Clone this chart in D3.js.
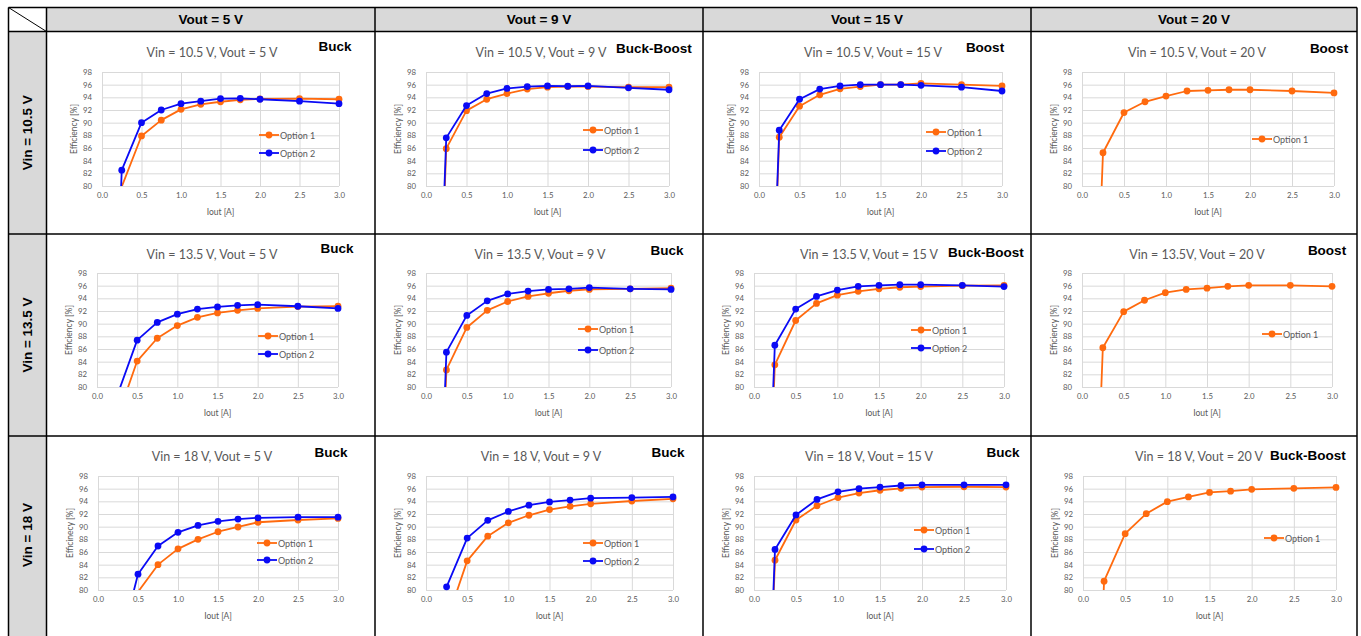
<!DOCTYPE html>
<html><head><meta charset="utf-8">
<script src="https://cdn.jsdelivr.net/npm/d3@7"></script>
<style>body{margin:0;background:#fff} svg{display:block}</style>
</head><body>
<svg id="c" width="1361" height="636"></svg>
<script>
// ---------- DATA ----------
const iout = [0, 0.25, 0.5, 0.75, 1.0, 1.25, 1.5, 1.75, 2.0, 2.5, 3.0];
const voutHeaders = ["Vout = 5 V", "Vout = 9 V", "Vout = 15 V", "Vout = 20 V"];
const vinHeaders = ["Vin = 10.5 V", "Vin = 13.5 V", "Vin = 18 V"];
const panelTitles = [
  "Vin = 10.5 V, Vout = 5 V", "Vin = 10.5 V, Vout = 9 V", "Vin = 10.5 V, Vout = 15 V", "Vin = 10.5 V, Vout = 20 V",
  "Vin = 13.5 V, Vout = 5 V", "Vin = 13.5 V, Vout = 9 V", "Vin = 13.5 V, Vout = 15 V", "Vin = 13.5V, Vout = 20 V",
  "Vin = 18 V, Vout = 5 V", "Vin = 18 V, Vout = 9 V", "Vin = 18 V, Vout = 15 V", "Vin = 18 V, Vout = 20 V"];
const topologies = [
  "Buck", "Buck-Boost", "Boost", "Boost",
  "Buck", "Buck", "Buck-Boost", "Boost",
  "Buck", "Buck", "Buck", "Buck-Boost"];
const yAxisTitles = [
  "Efficiency [%]", "Efficiency [%]", "Efficiency [%]", "Efficiency [%]",
  "Efficiency [%]", "Efficiency [%]", "Efficiency [%]", "Efficiency [%]",
  "Efficinecy [%]", "Efficiency [%]", "Efficiency [%]", "Efficiency [%]"];
const xAxisTitle = "Iout [A]";
const seriesNames = ["Option 1", "Option 2"];
const yTicks = [80, 82, 84, 86, 88, 90, 92, 94, 96, 98];
const xTicks = [0, 0.5, 1.0, 1.5, 2.0, 2.5, 3.0];

// Efficiency [%] per panel (row = Vin, col = Vout)
const eff_10p5_5_opt1  = [0, 79.9, 87.9, 90.4, 92.1, 92.9, 93.3, 93.6, 93.75, 93.8, 93.7];
const eff_10p5_5_opt2  = [0, 82.5, 90.0, 92.0, 93.0, 93.4, 93.8, 93.85, 93.7, 93.4, 93.0];
const eff_10p5_9_opt1  = [0, 85.9, 91.9, 93.7, 94.6, 95.3, 95.6, 95.7, 95.7, 95.6, 95.6];
const eff_10p5_9_opt2  = [0, 87.6, 92.7, 94.6, 95.4, 95.7, 95.8, 95.75, 95.8, 95.5, 95.2];
const eff_10p5_15_opt1 = [0, 87.7, 92.6, 94.4, 95.35, 95.7, 96.0, 96.0, 96.2, 96.0, 95.8];
const eff_10p5_15_opt2 = [0, 88.8, 93.7, 95.3, 95.8, 96.0, 96.0, 96.0, 95.9, 95.6, 95.0];
const eff_10p5_20_opt1 = [0, 85.25, 91.6, 93.3, 94.2, 95.0, 95.1, 95.2, 95.2, 95.0, 94.7];
const eff_13p5_5_opt1  = [0, 75.0, 84.1, 87.7, 89.7, 91.0, 91.7, 92.1, 92.4, 92.7, 92.75];
const eff_13p5_5_opt2  = [0, 78.6, 87.4, 90.2, 91.5, 92.3, 92.65, 92.9, 93.0, 92.75, 92.4];
const eff_13p5_9_opt1  = [0, 82.7, 89.4, 92.1, 93.5, 94.3, 94.8, 95.2, 95.4, 95.5, 95.6];
const eff_13p5_9_opt2  = [0, 85.5, 91.3, 93.6, 94.7, 95.15, 95.4, 95.5, 95.7, 95.5, 95.4];
const eff_13p5_15_opt1 = [0, 83.5, 90.5, 93.2, 94.5, 95.1, 95.5, 95.75, 95.85, 96.0, 96.05];
const eff_13p5_15_opt2 = [0, 86.6, 92.3, 94.3, 95.3, 95.9, 96.05, 96.15, 96.15, 96.05, 95.85];
const eff_13p5_20_opt1 = [0, 86.2, 91.9, 93.7, 94.9, 95.4, 95.6, 95.9, 96.05, 96.05, 95.9];
const eff_18_5_opt1    = [0, 65.0, 79.7, 84.0, 86.5, 88.0, 89.2, 89.95, 90.7, 91.05, 91.3];
const eff_18_5_opt2    = [0, 70.0, 82.5, 86.95, 89.1, 90.2, 90.85, 91.2, 91.4, 91.5, 91.5];
const eff_18_9_opt1    = [0, 75.0, 84.6, 88.5, 90.6, 91.8, 92.7, 93.2, 93.6, 94.05, 94.4];
const eff_18_9_opt2    = [0, 80.5, 88.2, 91.0, 92.4, 93.4, 93.9, 94.2, 94.5, 94.6, 94.7];
const eff_18_15_opt1   = [0, 84.7, 91.05, 93.3, 94.6, 95.3, 95.75, 96.05, 96.25, 96.3, 96.25];
const eff_18_15_opt2   = [0, 86.4, 91.85, 94.3, 95.5, 96.0, 96.25, 96.5, 96.6, 96.6, 96.6];
const eff_18_20_opt1   = [0, 81.4, 88.9, 92.05, 93.95, 94.7, 95.4, 95.6, 95.9, 96.05, 96.2];

const panelSeries = [
  [eff_10p5_5_opt1, eff_10p5_5_opt2], [eff_10p5_9_opt1, eff_10p5_9_opt2], [eff_10p5_15_opt1, eff_10p5_15_opt2], [eff_10p5_20_opt1],
  [eff_13p5_5_opt1, eff_13p5_5_opt2], [eff_13p5_9_opt1, eff_13p5_9_opt2], [eff_13p5_15_opt1, eff_13p5_15_opt2], [eff_13p5_20_opt1],
  [eff_18_5_opt1, eff_18_5_opt2], [eff_18_9_opt1, eff_18_9_opt2], [eff_18_15_opt1, eff_18_15_opt2], [eff_18_20_opt1]];

// ---------- LAYOUT / STYLE ----------
const colEdges = [8.5, 46.5, 375, 703, 1031, 1357];
const rowEdges = [7.5, 31.5, 234, 436, 640];
const seriesColors = ["#FF6A0E", "#0A0AF5"];
const textGray = "#595959", gridGray = "#D9D9D9", headerGray = "#D9D9D9";
// plot rectangles [x0, y0, x1, y1]
const plotRects = [
  [102, 72, 339, 186], [426, 72, 669, 186], [759, 72, 1002, 186], [1082, 72, 1334, 186],
  [97, 273, 338, 387], [426, 273, 671, 387], [754, 273, 1004, 387], [1082, 273, 1332, 387],
  [98, 476, 338, 590], [426, 476, 673, 590], [754, 476, 1006, 590], [1083, 476, 1336, 590]];
const titlePos = [[212, 52], [541, 52], [873, 52], [1197, 52], [212, 254], [540, 254], [869, 254], [1197, 254], [212, 456], [541, 456], [869, 456], [1199, 456]];
const topoPos = [[335, 46], [654, 48], [985, 47], [1329, 48], [337, 248], [667, 250], [986, 252], [1327, 250], [331, 452], [668, 452], [1003, 452], [1308, 455]];
// legend: line start x, y of first entry, row spacing
const legendPos = [[259, 135, 18], [583, 130, 20], [926, 132, 19], [1252, 139, 18], [258, 336, 18], [578, 329, 21], [911, 330, 18], [1262, 334, 18], [257, 543, 17], [583, 543, 18], [914, 530, 19], [1264, 538, 18]];

const svg = d3.select("#c");
const chartFont = "Lato, 'Open Sans', sans-serif";
const boldFont = "'Liberation Sans', Arial, sans-serif";

// ---------- TABLE ----------
const tbl = svg.append("g");
for (let c = 1; c < 5; c++) {
  tbl.append("rect").attr("x", colEdges[c]).attr("y", rowEdges[0])
    .attr("width", colEdges[c + 1] - colEdges[c]).attr("height", rowEdges[1] - rowEdges[0]).attr("fill", headerGray);
  tbl.append("text").attr("x", (colEdges[c] + colEdges[c + 1]) / 2).attr("y", (rowEdges[0] + rowEdges[1]) / 2)
    .attr("text-anchor", "middle").attr("dominant-baseline", "central")
    .attr("font-family", boldFont).attr("font-weight", "bold").attr("font-size", 13.5).attr("fill", "#000")
    .text(voutHeaders[c - 1]);
}
for (let r = 1; r < 4; r++) {
  tbl.append("rect").attr("x", colEdges[0]).attr("y", rowEdges[r])
    .attr("width", colEdges[1] - colEdges[0]).attr("height", rowEdges[r + 1] - rowEdges[r]).attr("fill", headerGray);
  const cy = (rowEdges[r] + Math.min(rowEdges[r + 1], 636)) / 2;
  const cx = (colEdges[0] + colEdges[1]) / 2;
  tbl.append("text").attr("transform", `translate(${cx},${r === 3 ? 535 : cy}) rotate(-90)`)
    .attr("text-anchor", "middle").attr("dominant-baseline", "central")
    .attr("font-family", boldFont).attr("font-weight", "bold").attr("font-size", 13.5).attr("fill", "#000")
    .text(vinHeaders[r - 1]);
}

// ---------- PANELS ----------
panelSeries.forEach((series, i) => {
  const [x0, y0, x1, y1] = plotRects[i];
  const x = d3.scaleLinear().domain([0, 3]).range([x0, x1]);
  const y = d3.scaleLinear().domain([80, 98]).range([y1, y0]);
  const g = svg.append("g");
  const clipId = "clip" + i;
  g.append("clipPath").attr("id", clipId).append("rect")
    .attr("x", x0).attr("y", y0).attr("width", x1 - x0).attr("height", y1 - y0);

  g.append("g").attr("transform", `translate(0,${y1})`)
    .call(d3.axisBottom(x).tickValues(xTicks).tickSize(-(y1 - y0)).tickFormat(d3.format(".1f")).tickPadding(6))
    .call(a => {
      a.select(".domain").remove();
      a.selectAll("line").attr("stroke", gridGray);
      a.selectAll("text").attr("fill", textGray).attr("font-family", chartFont).attr("font-size", 7.8);
    });
  g.append("g").attr("transform", `translate(${x0},0)`)
    .call(d3.axisLeft(y).tickValues(yTicks).tickSize(-(x1 - x0)).tickFormat(d3.format("d")).tickPadding(10))
    .call(a => {
      a.select(".domain").remove();
      a.selectAll("line").attr("stroke", gridGray);
      a.selectAll("text").attr("fill", textGray).attr("font-family", chartFont).attr("font-size", 7.8);
    });

  g.append("text").attr("x", (x0 + x1) / 2).attr("y", y1 + 26).attr("text-anchor", "middle")
    .attr("dominant-baseline", "central").attr("fill", textGray).attr("font-family", chartFont).attr("font-size", 8.5)
    .text(xAxisTitle);
  g.append("text").attr("transform", `translate(${x0 - 28},${(y0 + y1) / 2}) rotate(-90)`).attr("text-anchor", "middle")
    .attr("dominant-baseline", "central").attr("fill", textGray).attr("font-family", chartFont).attr("font-size", 8.5)
    .text(yAxisTitles[i]);

  g.append("text").attr("x", titlePos[i][0]).attr("y", titlePos[i][1]).attr("text-anchor", "middle")
    .attr("dominant-baseline", "central").attr("fill", textGray).attr("font-family", chartFont).attr("font-size", 12.5)
    .text(panelTitles[i]);
  g.append("text").attr("x", topoPos[i][0]).attr("y", topoPos[i][1]).attr("text-anchor", "middle")
    .attr("dominant-baseline", "central").attr("fill", "#000").attr("font-family", boldFont).attr("font-weight", "bold")
    .attr("font-size", 13.5).text(topologies[i]);

  const line = d3.line().x((d, k) => x(iout[k])).y(d => y(d));
  series.forEach((vals, s) => {
    g.append("path").attr("clip-path", `url(#${clipId})`).attr("d", line(vals))
      .attr("fill", "none").attr("stroke", seriesColors[s]).attr("stroke-width", 1.8).attr("stroke-linejoin", "round");
    g.append("g").selectAll("circle").data(vals.map((v, k) => [iout[k], v]).filter(p => p[1] >= 80 && p[1] <= 98))
      .join("circle").attr("cx", p => x(p[0])).attr("cy", p => y(p[1])).attr("r", 3.4).attr("fill", seriesColors[s]);
  });

  const [lx, ly, ld] = legendPos[i];
  series.forEach((vals, s) => {
    const yy = ly + s * ld;
    g.append("line").attr("x1", lx).attr("x2", lx + 20).attr("y1", yy).attr("y2", yy)
      .attr("stroke", seriesColors[s]).attr("stroke-width", 1.8);
    g.append("circle").attr("cx", lx + 10).attr("cy", yy).attr("r", 3.4).attr("fill", seriesColors[s]);
    g.append("text").attr("x", lx + 21).attr("y", yy).attr("dominant-baseline", "central")
      .attr("fill", textGray).attr("font-family", chartFont).attr("font-size", 9).text(seriesNames[s]);
  });
});

// ---------- TABLE BORDERS ----------
const bl = svg.append("g").attr("stroke", "#000").attr("stroke-width", 1.5);
colEdges.forEach(cx => bl.append("line").attr("x1", cx).attr("x2", cx).attr("y1", rowEdges[0]).attr("y2", 640));
rowEdges.slice(0, 4).forEach(ry => bl.append("line").attr("x1", colEdges[0]).attr("x2", colEdges[5]).attr("y1", ry).attr("y2", ry));
bl.append("line").attr("x1", colEdges[0]).attr("y1", rowEdges[0]).attr("x2", colEdges[1]).attr("y2", rowEdges[1]).attr("stroke-width", 1);
</script>
</body></html>
